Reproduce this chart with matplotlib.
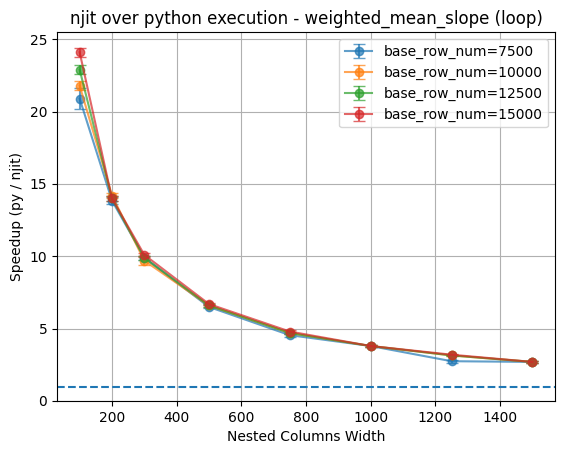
import matplotlib
matplotlib.use("Agg")
import matplotlib.pyplot as plt

widths = [100, 200, 300, 500, 750, 1000, 1250, 1500]
labels = ["base_row_num=7500", "base_row_num=10000", "base_row_num=12500", "base_row_num=15000"]
s7500 = [20.9, 13.85, 9.9, 6.5, 4.55, 3.8, 2.75, 2.7]
s10000 = [21.8, 14.2, 9.7, 6.6, 4.7, 3.8, 3.15, 2.7]
s12500 = [22.9, 14.0, 9.9, 6.6, 4.7, 3.8, 3.15, 2.7]
s15000 = [24.1, 14.0, 10.1, 6.7, 4.8, 3.8, 3.2, 2.7]
e7500 = [0.75, 0.25, 0.15, 0.1, 0.1, 0.05, 0.1, 0.05]
e10000 = [0.3, 0.2, 0.3, 0.1, 0.1, 0.05, 0.05, 0.05]
e12500 = [0.3, 0.15, 0.15, 0.1, 0.1, 0.05, 0.05, 0.05]
e15000 = [0.3, 0.15, 0.15, 0.1, 0.1, 0.05, 0.05, 0.05]

series = [s7500, s10000, s12500, s15000]
errs = [e7500, e10000, e12500, e15000]

fig = plt.figure(figsize=(5.62, 4.55), dpi=100)
ax = fig.add_axes([57/562, 54/455, 498/562, 369/455])
for lab, s, e in zip(labels, series, errs):
    ax.errorbar(widths, s, yerr=e, marker='o', capsize=4, alpha=0.7, label=lab)
ax.axhline(1, linestyle='--', color='C0')
ax.set_ylim(0, 25.5)
ax.set_xlim(30, 1570)
ax.set_xlabel("Nested Columns Width")
ax.set_ylabel("Speedup (py / njit)")
ax.set_title("njit over python execution - weighted_mean_slope (loop)")
ax.grid(True)
ax.legend(loc='upper right')
fig.savefig("out.png", dpi=100)
